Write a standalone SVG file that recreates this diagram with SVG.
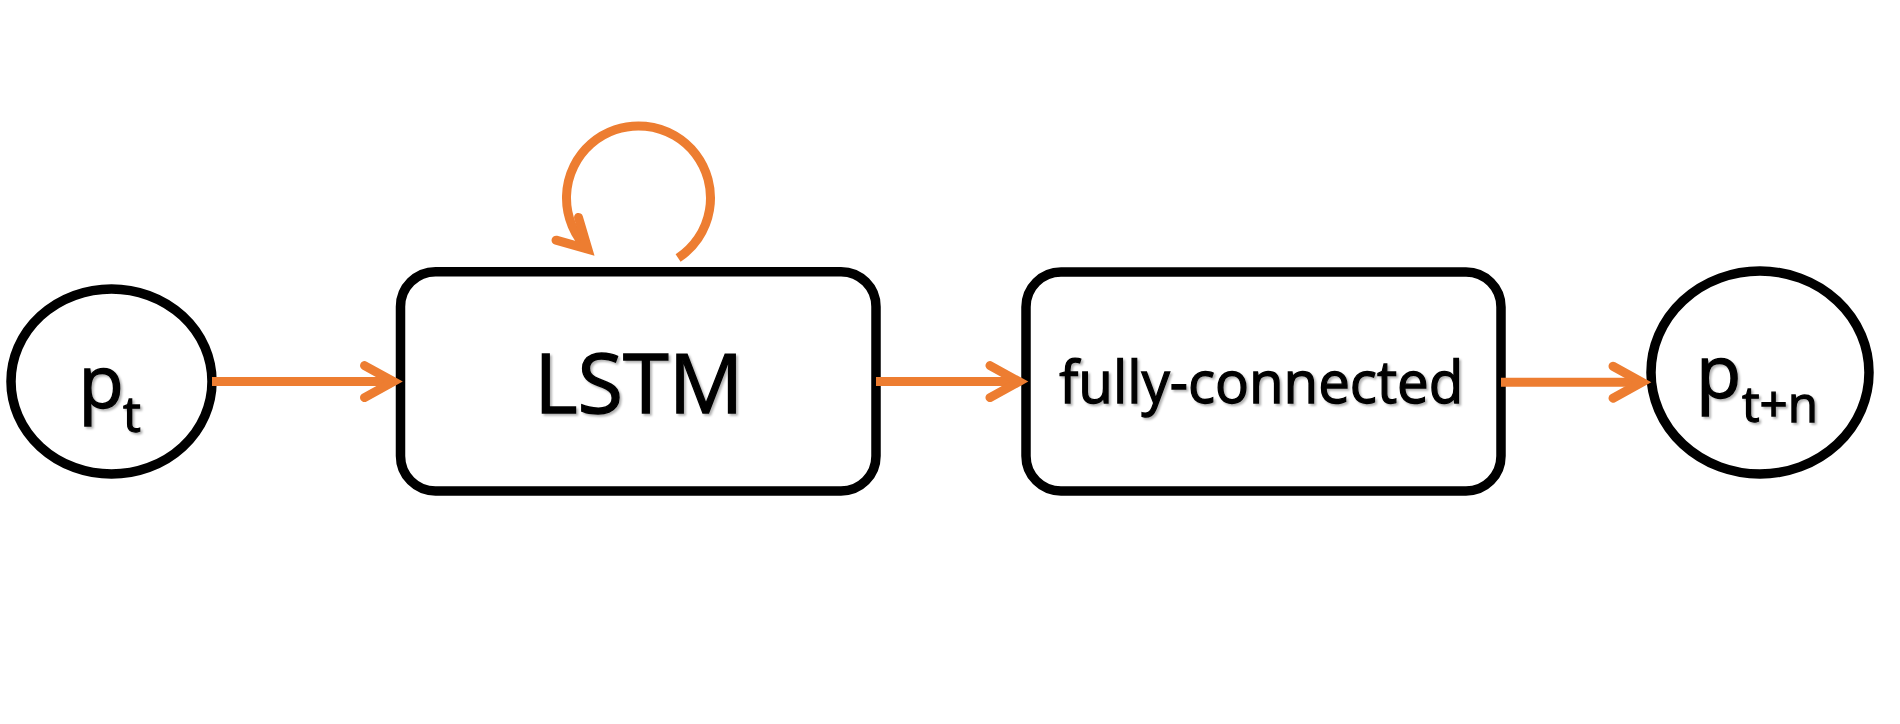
<svg xmlns="http://www.w3.org/2000/svg" width="1900" height="724" viewBox="0 0 1900 724">
  <defs>
    <style>
      .shape{fill:#ffffff;stroke:#000000;stroke-width:9.5}
      .edge{fill:none;stroke:#ED7D31;stroke-width:9}
      .label{font-family:"Open Sans","Liberation Sans",sans-serif;fill:#000000;stroke:#000000;stroke-width:1.3;filter:url(#shadow)}
    </style>
    <marker id="arrow" markerUnits="userSpaceOnUse" orient="auto" markerWidth="60" markerHeight="60" viewBox="-40 -30 60 60" refX="0" refY="0" overflow="visible">
      <path d="M -29 -16 L 0 0 L -29 16" fill="none" stroke="#ED7D31" stroke-width="9" stroke-linecap="round" stroke-linejoin="miter" stroke-miterlimit="10"/>
    </marker>
    <filter id="shadow" x="-10%" y="-20%" width="130%" height="150%">
      <feDropShadow dx="2" dy="2" stdDeviation="1.2" flood-color="#000000" flood-opacity="0.3"/>
    </filter>
  </defs>
  <rect x="0" y="0" width="1900" height="724" fill="#ffffff"/>

  <g id="node-pt">
    <ellipse class="shape" cx="111.5" cy="381.5" rx="100.5" ry="92.5"/>
    <text class="label"><tspan x="78.5" y="407.6" font-size="74">p</tspan><tspan x="123" y="432" font-size="50">t</tspan></text>
  </g>

  <g id="node-lstm">
    <rect class="shape" x="400.5" y="271.7" width="475.5" height="219.3" rx="35" ry="35"/>
    <text class="label" x="638.8" y="412.7" font-size="83" text-anchor="middle">LSTM</text>
  </g>

  <g id="node-fc">
    <rect class="shape" x="1026" y="272" width="475" height="219" rx="35" ry="35"/>
    <text class="label" x="1261.3" y="403" font-size="58" text-anchor="middle" textLength="404" lengthAdjust="spacingAndGlyphs">fully-connected</text>
  </g>

  <g id="node-ptn">
    <ellipse class="shape" cx="1760" cy="372.5" rx="109" ry="101.5"/>
    <text class="label"><tspan x="1696" y="397.9" font-size="74">p</tspan><tspan x="1742" y="421.7" font-size="50" textLength="76" lengthAdjust="spacingAndGlyphs">t+n</tspan></text>
  </g>

  <g id="edges">
    <path class="edge" d="M 212 381.6 L 393.5 381.6" marker-end="url(#arrow)"/>
    <path class="edge" d="M 876 381.6 L 1019 381.6" marker-end="url(#arrow)"/>
    <path class="edge" d="M 1501 382.2 L 1642 382.2" marker-end="url(#arrow)"/>
    <path class="edge" d="M 678.1 258.1 A 72 72 0 1 0 587.9 249.2" marker-end="url(#arrow)"/>
  </g>
</svg>
